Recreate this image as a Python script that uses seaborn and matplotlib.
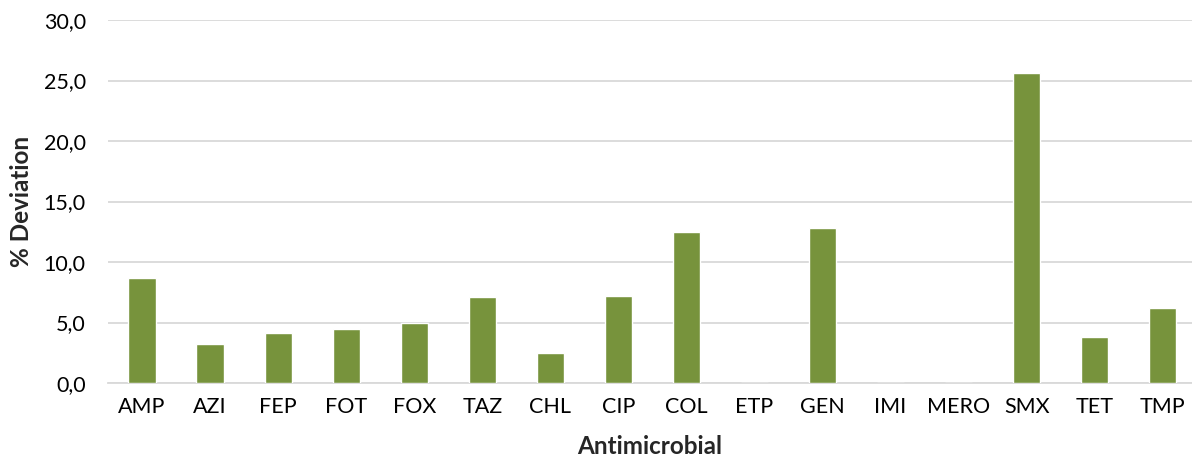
import pandas as pd
import matplotlib.pyplot as plt
import matplotlib.ticker as mticker
import seaborn as sns

# Valores
antimicrobials = ["AMP", "AZI", "FEP", "FOT", "FOX", "TAZ", "CHL", "CIP",
                  "COL", "ETP", "GEN", "IMI", "MERO", "SMX", "TET", "TMP"]
deviation = [8.64, 3.26, 4.14, 4.50, 4.97, 7.12, 2.45, 7.18,
             12.45, 0.0, 12.8, 0.0, 0.0, 25.58, 3.84, 6.18]

df = pd.DataFrame({"Antimicrobial": antimicrobials, "% Deviation": deviation})

sns.set_style("white")
plt.rcParams["font.family"] = ["Lato", "DejaVu Sans"]

fig = plt.figure(figsize=(11.92, 4.66), dpi=100)
ax = fig.add_axes([108 / 1192, (466 - 383) / 466, (1192 - 108) / 1192, (383 - 20) / 466])

sns.barplot(data=df, x="Antimicrobial", y="% Deviation", color="#77933C",
            width=0.40, saturation=1, ax=ax, zorder=3)

ax.set_ylim(0, 30)
ax.set_yticks(range(0, 31, 5))
ax.yaxis.set_major_formatter(mticker.FuncFormatter(lambda v, p: f"{v:.1f}".replace(".", ",")))
ax.grid(axis="y", color="#D9D9D9", linewidth=1.3, zorder=0)
# el área del gráfico sigue un poco más allá del borde derecho
ax.set_xlim(-0.5, 15.43)

for s in ["top", "right", "left"]:
    ax.spines[s].set_visible(False)
ax.spines["bottom"].set_color("#D9D9D9")
ax.spines["bottom"].set_linewidth(1.3)

ax.tick_params(axis="both", length=0, labelsize=15.5, colors="black")
ax.tick_params(axis="x", pad=10)
ax.tick_params(axis="y", pad=16)

ax.set_xlabel("Antimicrobial", fontsize=17.5, fontweight="bold", labelpad=13)
ax.set_ylabel("% Deviation", fontsize=17.5, fontweight="bold", labelpad=8)

plt.savefig("out.png", dpi=100)
